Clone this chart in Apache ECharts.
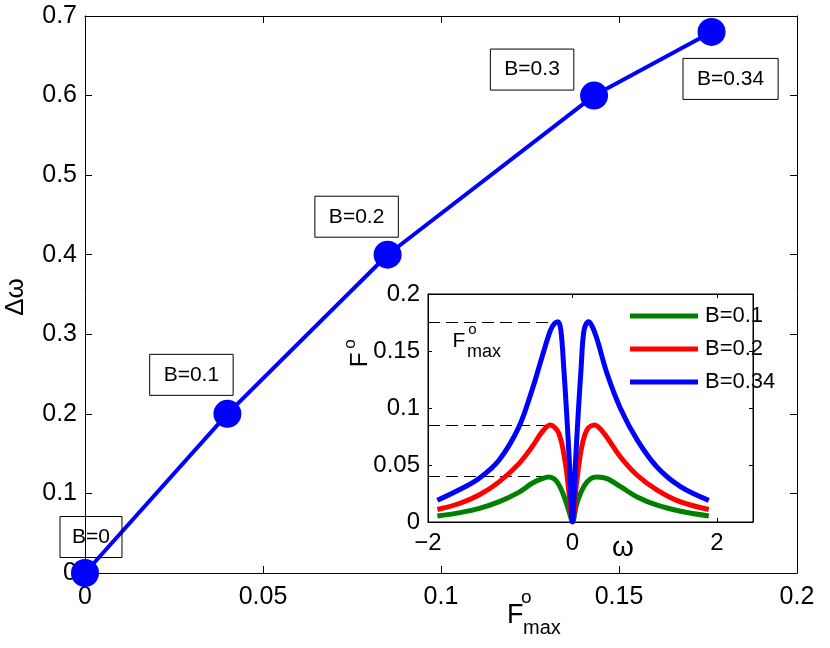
<!DOCTYPE html>
<html>
<head>
<meta charset="utf-8">
<script src="https://cdn.jsdelivr.net/npm/echarts@6/dist/echarts.min.js"></script>
<style>
html,body{margin:0;padding:0;background:#fff;}
#chart{width:830px;height:648px;}
</style>
</head>
<body>
<div id="chart"></div>
<script>
// ---- main chart data ----
const fmax = [0, 0.04, 0.085, 0.143, 0.176];
const dOmega = [0, 0.2, 0.4, 0.6, 0.68];
const bLabels = ['B=0', 'B=0.1', 'B=0.2', 'B=0.3', 'B=0.34'];

// ---- inset data: [omega, F] ----
const insetNames = ['B=0.1', 'B=0.2', 'B=0.34'];
const curveB01 = [[-1.87,0.0053],[-1.575,0.008],[-1.30,0.0118],[-1.02,0.0176],[-0.744,0.026],[-0.558,0.034],[-0.42,0.038],[-0.33,0.0395],[-0.21,0.035],[-0.097,0.019],[-0.028,0.005],[0,0],
  [0.06,0.016],[0.157,0.031],[0.25,0.038],[0.342,0.0395],[0.48,0.038],[0.665,0.031],[0.896,0.022],[1.173,0.0147],[1.496,0.0094],[1.888,0.0053]];
const curveB02 = [[-1.87,0.011],[-1.575,0.016],[-1.30,0.0234],[-1.02,0.035],[-0.744,0.051],[-0.558,0.066],[-0.42,0.079],[-0.31,0.085],[-0.19,0.078],[-0.097,0.051],[-0.042,0.022],[0,0],
  [0.06,0.036],[0.129,0.066],[0.203,0.081],[0.305,0.085],[0.434,0.078],[0.665,0.057],[0.896,0.041],[1.173,0.028],[1.496,0.0176],[1.888,0.011]];
const curveB034 = [[-1.87,0.019],[-1.575,0.028],[-1.30,0.038],[-1.02,0.054],[-0.744,0.083],[-0.558,0.116],[-0.42,0.145],[-0.305,0.168],[-0.25,0.174],[-0.2,0.1756],[-0.16,0.168],[-0.12,0.135],[-0.08,0.095],[-0.04,0.05],[0,0],
  [0.04,0.05],[0.08,0.095],[0.12,0.135],[0.16,0.168],[0.22,0.1756],[0.27,0.172],[0.342,0.16],[0.48,0.13],[0.665,0.0996],[0.896,0.072],[1.173,0.048],[1.496,0.031],[1.888,0.019]];
// dashed F_max guide lines: level and where they end
const peakLevels = [0.175, 0.085, 0.04];
const peakEnds = [-0.24, -0.31, -0.25];

const mainXTicks = [0, 0.05, 0.1, 0.15, 0.2];
const mainYTicks = [0, 0.1, 0.2, 0.3, 0.4, 0.5, 0.6, 0.7];

const FONT = "'Liberation Sans', Arial, Helvetica, sans-serif";
const chart = echarts.init(document.getElementById('chart'));

// label offsets for annotation boxes
const labelOffsets = [[6,-36],[-36,-39],[-31,-38],[-62,-26],[19,47]];
const labelPads = [[10,12],[10,14],[10,14],[10,14],[10,14]];

const mainData = fmax.map((x, i) => ({
  value: [x, dOmega[i]],
  label: {
    show: true, formatter: bLabels[i], position: 'inside',
    offset: labelOffsets[i], color: '#000', fontSize: 21, fontFamily: FONT,
    borderColor: '#000', borderWidth: 1, padding: labelPads[i]
  }
}));

function boxAxisX(grid, pos, min, max, interval, showLabel, fs, tickLen, margin) {
  return {
    type: 'value', gridIndex: grid, position: pos, min: min, max: max, interval: interval,
    axisLine: {show: true, onZero: false, lineStyle: {color: '#000', width: 1}},
    axisTick: {show: true, inside: true, length: tickLen, lineStyle: {color: '#000'}},
    axisLabel: {show: showLabel, color: '#000', fontSize: fs, fontFamily: FONT, margin: margin,
      showMaxLabel: max % interval === 0,
      formatter: v => String(v).replace('-', '\u2212')},
    splitLine: {show: false}
  };
}
function boxAxisY(grid, pos, min, max, interval, showLabel, fs, tickLen, margin) {
  return {
    type: 'value', gridIndex: grid, position: pos, min: min, max: max, interval: interval,
    axisLine: {show: true, onZero: false, lineStyle: {color: '#000', width: 1}},
    axisTick: {show: true, inside: true, length: tickLen, lineStyle: {color: '#000'}},
    axisLabel: {show: showLabel, color: '#000', fontSize: fs, fontFamily: FONT, margin: margin},
    splitLine: {show: false}
  };
}

const insetColors = ['#008000', '#ff0000', '#0000ff'];
const insetCurves = [curveB01, curveB02, curveB034];

const insetSeries = insetCurves.map((c, i) => ({
  name: insetNames[i], type: 'line', xAxisIndex: 2, yAxisIndex: 2,
  data: c, showSymbol: false, smooth: 0.35, z: 5,
  lineStyle: {color: insetColors[i], width: 5}, itemStyle: {color: insetColors[i]},
  markLine: {
    silent: true, symbol: 'none', label: {show: false},
    lineStyle: {color: '#000', type: [12, 6], width: 1},
    data: [[{coord: [-2, peakLevels[2 - i]]}, {coord: [peakEnds[2 - i], peakLevels[2 - i]]}]]
  }
}));

chart.setOption({
  animation: false,
  backgroundColor: '#fff',
  textStyle: {fontFamily: FONT},
  grid: [
    {left: 85, top: 16, width: 712, height: 557, containLabel: false},
    {left: 428, top: 294, width: 325, height: 228, show: true, backgroundColor: '#fff', borderColor: '#000', borderWidth: 1, z: 3}
  ],
  legend: {
    data: insetNames, orient: 'vertical', left: 625, top: 300, itemGap: 11,
    icon: 'rect', itemWidth: 68, itemHeight: 5, z: 10,
    textStyle: {fontSize: 22, color: '#000', fontFamily: FONT, padding: [0, 0, 0, 2]}
  },
  xAxis: [
    boxAxisX(0, 'bottom', 0, 0.2, 0.05, true, 25, 7, 12),
    boxAxisX(0, 'top', 0, 0.2, 0.05, false, 25, 7, 12),
    Object.assign(boxAxisX(1, 'bottom', -2, 2.5, 2, true, 24, 4, 9), {z: 4}),
    Object.assign(boxAxisX(1, 'top', -2, 2.5, 2, false, 24, 4, 9), {z: 4})
  ],
  yAxis: [
    boxAxisY(0, 'left', 0, 0.7, 0.1, true, 25, 7, 8),
    boxAxisY(0, 'right', 0, 0.7, 0.1, false, 25, 7, 8),
    Object.assign(boxAxisY(1, 'left', 0, 0.2, 0.05, true, 24, 4, 8), {z: 4}),
    Object.assign(boxAxisY(1, 'right', 0, 0.2, 0.05, false, 24, 4, 8), {z: 4})
  ],
  series: [
    {
      type: 'line', xAxisIndex: 0, yAxisIndex: 0, data: mainData, clip: false,
      symbol: 'circle', symbolSize: 28, z: 2,
      lineStyle: {color: '#0000ff', width: 4}, itemStyle: {color: '#0000ff'}
    }
  ].concat(insetSeries),
  graphic: [
    // main x-axis name F^o_max
    {type: 'text', left: 507, top: 602, z: 20, style: {text: 'F', font: '27px ' + FONT, fill: '#000'}},
    {type: 'text', left: 521, top: 588, z: 20, style: {text: 'o', font: '19px ' + FONT, fill: '#000'}},
    {type: 'text', left: 523, top: 618, z: 20, style: {text: 'max', font: '20px ' + FONT, fill: '#000'}},
    // main y-axis name
    {type: 'text', x: 16, y: 297, rotation: Math.PI / 2, z: 20,
      style: {text: '\u0394\u03c9', font: '26px ' + FONT, fill: '#000', align: 'center', verticalAlign: 'middle'}},
    // inset x-axis name
    {type: 'text', x: 623, y: 548, z: 20,
      style: {text: '\u03c9', font: '28px ' + FONT, fill: '#000', align: 'center', verticalAlign: 'middle'}},
    // inset y-axis name F^o
    {type: 'group', x: 360, y: 352, rotation: Math.PI / 2, z: 20, children: [
      {type: 'text', x: -8, y: 0, style: {text: 'F', font: '24px ' + FONT, fill: '#000', align: 'center', verticalAlign: 'middle'}},
      {type: 'text', x: 8, y: -10, style: {text: 'o', font: '17px ' + FONT, fill: '#000', align: 'center', verticalAlign: 'middle'}}
    ]},
    // inset annotation F^o_max
    {type: 'text', x: 459, y: 341, z: 20, style: {text: 'F', font: '21px ' + FONT, fill: '#000', align: 'center', verticalAlign: 'middle'}},
    {type: 'text', x: 472.5, y: 330, z: 20, style: {text: 'o', font: '15px ' + FONT, fill: '#000', align: 'center', verticalAlign: 'middle'}},
    {type: 'text', x: 484, y: 352, z: 20, style: {text: 'max', font: '18px ' + FONT, fill: '#000', align: 'center', verticalAlign: 'middle'}}
  ]
});
</script>
</body>
</html>
